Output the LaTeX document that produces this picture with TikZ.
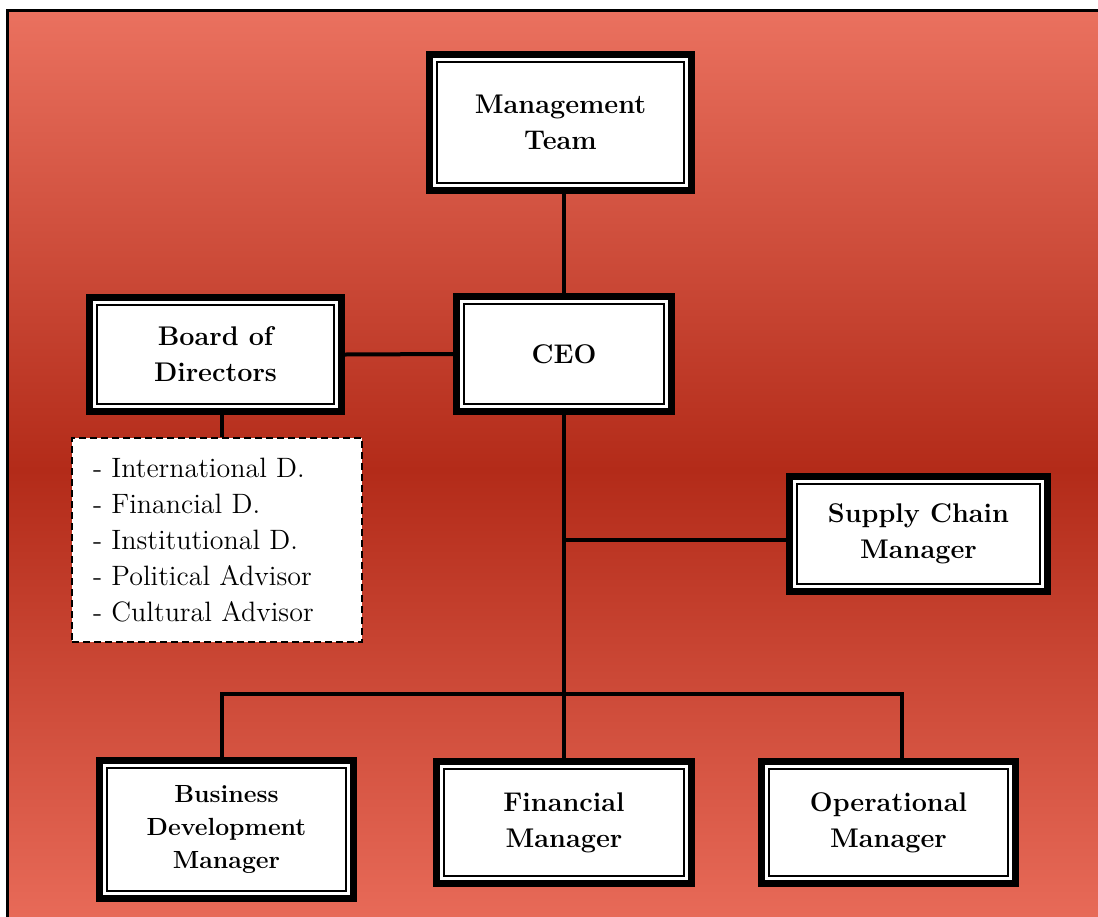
\documentclass[tikz,border=0pt]{standalone}
\usepackage{tikz}

\definecolor{bgLight}{RGB}{234,113,95}
\definecolor{bgDark}{RGB}{179,43,25}
\definecolor{bgBottom}{RGB}{233,108,90}

\tikzset{
  orgbox/.style={draw=black, line width=3.5pt, fill=white, align=center, inner sep=0pt,
    font=\fontsize{13.5}{18}\selectfont\bfseries,
    path picture={\draw[line width=1pt]
      ([shift={(3.75pt,-3.75pt)}]path picture bounding box.north west) rectangle
      ([shift={(-3.75pt,3.75pt)}]path picture bounding box.south east);}},
  listbox/.style={draw=black, line width=1pt, dash pattern=on 3.5pt off 2pt, fill=white,
    align=left, inner xsep=10.5pt, text width=124pt,
    font=\fontsize{14}{18}\selectfont},
  link/.style={line width=2pt, line join=miter}
}

\begin{document}
\begin{tikzpicture}[x=0.5pt, y=-0.5pt]
\useasboundingbox (0,0) rectangle (1098,916);
\clip (0,0) rectangle (1098,916);
\fill[white] (0,0) rectangle (1098,916);
\shade[top color=bgLight, bottom color=bgBottom, middle color=bgDark] (7.5,10.5) rectangle (1110,930);
\draw[line width=1.5pt] (7.5,930) -- (7.5,10.5) -- (1110,10.5);

% boxes
\node[orgbox, minimum width=131pt, minimum height=68pt] (mgmt) at (560.5,122.5) {Management\\Team};
\node[orgbox, minimum width=107.5pt, minimum height=57.5pt] (ceo) at (564,354) {CEO};
\node[orgbox, minimum width=126pt, minimum height=57pt] (board) at (215.5,354.5) {Board of\\Directors};
\node[listbox, minimum width=145pt, minimum height=102pt] (advisors) at (217,540)
  {- International D.\\- Financial D.\\- Institutional D.\\- Political Advisor\\- Cultural Advisor};
\node[orgbox, minimum width=129pt, minimum height=57.5pt] (supply) at (918.5,534) {Supply Chain\\Manager};
\node[orgbox, minimum width=127pt, minimum height=69pt, font=\fontsize{12.4}{16.7}\selectfont\bfseries]
  (busdev) at (226.5,829.5) {Business\\Development\\Manager};
\node[orgbox, minimum width=127.5pt, minimum height=61pt] (fin) at (564,822.5) {Financial\\Manager};
\node[orgbox, minimum width=127pt, minimum height=61pt] (oper) at (888.5,822.5) {Operational\\Manager};

% connectors
\coordinate (busL) at (222,694);
\coordinate (busR) at (902,694);
\draw[link] (ceo.north |- mgmt.south) -- (ceo.north);
\draw[link] (board.east) -- (ceo.west);
\draw[link] ([xshift=3pt]board.south) -- ([xshift=3pt]board.south |- advisors.north);
\draw[link] (ceo.south) -- (fin.north);
\draw[link] ([yshift=-3pt]ceo.south |- supply.west) -- ([yshift=-3pt]supply.west);
\draw[link] (busL |- busdev.north) -- (busL) -- (busR) -- (busR |- oper.north);
\end{tikzpicture}
\end{document}
